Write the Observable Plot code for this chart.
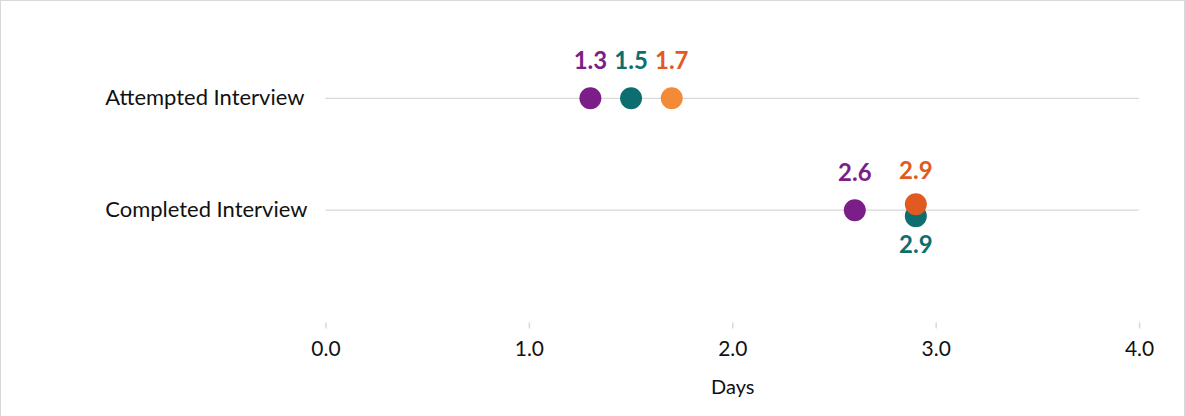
<!DOCTYPE html>
<html>
<head>
<meta charset="utf-8">
<script src="https://cdn.jsdelivr.net/npm/d3@7"></script>
<script src="https://cdn.jsdelivr.net/npm/@observablehq/plot@0.6"></script>
<style>
  html, body { margin: 0; padding: 0; background: #fff; }
  #chart svg { display: block; border: 1px solid #d9d9d9; box-sizing: border-box; font-family: Lato, "Open Sans", sans-serif; }
</style>
</head>
<body>
<div id="chart"></div>
<script>
const categories = ["Attempted Interview", "Completed Interview"];
const seriesNames = ["Series A", "Series B", "Series C"];
const seriesA = [1.3, 2.6];
const seriesB = [1.5, 2.9];
const seriesC = [1.7, 2.9];
const xTicks = [0, 1, 2, 3, 4];

const labelColors = {"Series A": "#7B1E87", "Series B": "#0D6E6F", "Series C": "#E05A22"};
const dotColors = {"Series A": ["#7B1E87", "#7B1E87"], "Series B": ["#0D6E6F", "#0D6E6F"], "Series C": ["#F28A38", "#E05A22"]};

const seriesValues = [seriesA, seriesB, seriesC];
const data = [];
categories.forEach((cat, i) => {
  seriesNames.forEach((s, j) => {
    data.push({category: cat, series: s, value: seriesValues[j][i], row: i});
  });
});
// dodge overlapping points in the same row: last series above, earlier below
categories.forEach(cat => {
  const rows = data.filter(d => d.category === cat);
  rows.forEach(d => { d.dodge = 0; });
  rows.forEach(d => {
    const dups = rows.filter(e => e.value === d.value);
    if (dups.length > 1) {
      const idx = dups.indexOf(d);
      d.dodge = idx === dups.length - 1 ? -1 : 1;
    }
  });
});

const fillOf = d => dotColors[d.series][d.row];
const plain = data.filter(d => d.dodge === 0);
const up = data.filter(d => d.dodge === -1);
const down = data.filter(d => d.dodge === 1);
const fmt = d3.format(".1f");

const W = 1185, H = 416;
const chart = Plot.plot({
  width: W,
  height: H,
  marginLeft: 325,
  marginRight: 45,
  marginTop: 97,
  marginBottom: 94,
  style: {fontFamily: "Lato, 'Open Sans', sans-serif"},
  x: {domain: [0, 4], ticks: xTicks, label: null},
  y: {type: "point", domain: categories, range: [97, 209], padding: 0, axis: null},
  marks: [
    Plot.ruleY(categories, {y: d => d, stroke: "#d9d9d9", strokeWidth: 1.3}),
    Plot.ruleY([0], {frameAnchor: "bottom", stroke: "#d9d9d9", strokeWidth: 1.5}),
    Plot.axisX({ticks: xTicks, tickFormat: fmt, tickSize: 6, stroke: "#d9d9d9", strokeWidth: 1.5, tickPadding: 12, fontSize: 21, fill: "#111", label: null}),
    Plot.text(["Days"], {frameAnchor: "bottom", dy: 71, fontSize: 20, fill: "#111"}),
    Plot.text(categories, {y: d => d, frameAnchor: "left", textAnchor: "start", dx: -221, fontSize: 22, fill: "#111"}),
    Plot.dot(plain, {x: "value", y: "category", r: 11, fill: fillOf}),
    Plot.dot(down, {x: "value", y: "category", r: 11, fill: fillOf, dy: 6}),
    Plot.dot(up, {x: "value", y: "category", r: 11, fill: fillOf, dy: -6}),
    Plot.text(plain, {x: "value", y: "category", text: d => fmt(d.value), fill: d => labelColors[d.series], dy: -37, fontSize: 24, fontWeight: "bold"}),
    Plot.text(up, {x: "value", y: "category", text: d => fmt(d.value), fill: d => labelColors[d.series], dy: -39, fontSize: 24, fontWeight: "bold"}),
    Plot.text(down, {x: "value", y: "category", text: d => fmt(d.value), fill: d => labelColors[d.series], dy: 35, fontSize: 24, fontWeight: "bold"})
  ]
});
document.getElementById("chart").appendChild(chart);
</script>
</body>
</html>
